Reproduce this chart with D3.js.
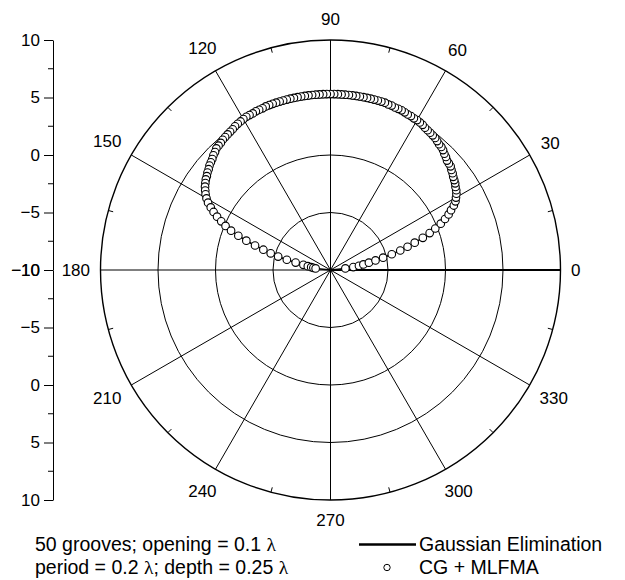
<!DOCTYPE html>
<html>
<head>
<meta charset="utf-8">
<script src="https://cdn.jsdelivr.net/npm/d3@7"></script>
<style>
  html, body { margin: 0; padding: 0; background: #fff; }
  svg { display: block; font-family: "Liberation Sans", Arial, sans-serif; }
</style>
</head>
<body>
<svg id="chart" width="625" height="580"></svg>
<script>
// Scattered field pattern (dB) over the upper half-plane, sampled every 1.2 degrees (0..180).
// Values below the -10 dB floor fall outside the plotted range.
const angleStepDeg = 1.2;
const cgMlfmaDb = [
  -12, -12, -12, -12, -11, -8.7, -8.0, -7.5, -7.1, -6.6,
  -6.0, -5.3, -4.5, -3.7, -3.0, -2.3, -1.5, -0.8, -0.2, 0.4,
  0.9, 1.35, 1.7, 2.1, 2.4, 2.6, 2.8, 2.95, 3.05, 3.2,
  3.3, 3.4, 3.55, 3.65, 3.8, 3.85, 3.9, 4.05, 4.15, 4.3,
  4.4, 4.45, 4.55, 4.65, 4.7, 4.75, 4.8, 4.85, 4.95, 5.0,
  5.05, 5.05, 5.1, 5.1, 5.15, 5.2, 5.2, 5.2, 5.25, 5.25,
  5.3, 5.3, 5.3, 5.3, 5.3, 5.3, 5.3, 5.3, 5.3, 5.3,
  5.3, 5.3, 5.3, 5.3, 5.3, 5.3, 5.3, 5.3, 5.3, 5.3,
  5.3, 5.3, 5.3, 5.3, 5.3, 5.3, 5.3, 5.3, 5.3, 5.3,
  5.3, 5.3, 5.3, 5.3, 5.25, 5.25, 5.25, 5.2, 5.2, 5.2,
  5.15, 5.1, 5.05, 5.0, 4.9, 4.85, 4.8, 4.75, 4.7, 4.6,
  4.55, 4.5, 4.35, 4.25, 4.1, 4.0, 3.9, 3.75, 3.65, 3.5,
  3.4, 3.25, 3.1, 2.9, 2.7, 2.45, 2.15, 1.75, 1.35, 0.9,
  0.4, -0.1, -0.7, -1.45, -2.25, -3.1, -3.9, -4.6, -5.3, -6.1,
  -6.9, -7.6, -8.0, -8.3, -8.5, -8.7, -11, -12, -12, -12,
  -12
];
// The direct solver agrees with the iterative one to within the plot resolution
const gaussianDb = cgMlfmaDb.slice();

const radialTicks = [-10, -5, 0, 5, 10];
const radialMinorTicks = [-7.5, -2.5, 2.5, 7.5];
const spokeAngles = [0, 30, 60, 90, 120, 150, 180, 210, 240, 270, 300, 330];
const rimTickAngles = [15, 45, 75, 105, 135, 165, 195, 225, 255, 285, 315, 345];
const noteLines = [
  ["50 grooves; opening = 0.1 ", "λ"],
  ["period = 0.2 ", "λ", "; depth = 0.25 ", "λ"]
];
const seriesNames = ["Gaussian Elimination", "CG + MLFMA"];

const svg = d3.select("#chart");
const cx = 330.5, cy = 270, R = 230;
const rMin = -10, rMax = 10;
const rScale = d3.scaleLinear().domain([rMin, rMax]).range([0, R]).clamp(true);
const rad = deg => deg * Math.PI / 180;
const px = (deg, r) => cx + r * Math.cos(rad(deg));
const py = (deg, r) => cy - r * Math.sin(rad(deg));

const grid = svg.append("g").attr("fill", "none").attr("stroke", "#000");

// concentric rings
grid.selectAll("circle.ring")
  .data(radialTicks.filter(v => v > rMin))
  .join("circle")
  .attr("cx", cx).attr("cy", cy)
  .attr("r", d => rScale(d))
  .attr("stroke-width", d => d === rMax ? 1.4 : 1);

// spokes
grid.selectAll("line.spoke")
  .data(spokeAngles)
  .join("line")
  .attr("x1", cx).attr("y1", cy)
  .attr("x2", d => px(d, R)).attr("y2", d => py(d, R))
  .attr("stroke-width", d => d === 0 ? 1.8 : 1);

// minor ticks on the rim, pointing inward
grid.selectAll("line.rimtick")
  .data(rimTickAngles)
  .join("line")
  .attr("x1", d => px(d, R)).attr("y1", d => py(d, R))
  .attr("x2", d => px(d, R - 5)).attr("y2", d => py(d, R - 5))
  .attr("stroke-width", 1);

// angle labels: each label box sits a fixed gap outside the rim
const angleLabels = svg.append("g")
  .selectAll("text")
  .data(spokeAngles)
  .join("text")
  .attr("text-anchor", "middle")
  .attr("dominant-baseline", "central")
  .attr("font-size", 17)
  .text(d => d);
angleLabels.each(function (d) {
  const w = this.getComputedTextLength();
  const c = Math.abs(Math.cos(rad(d))), s = Math.abs(Math.sin(rad(d)));
  const dist = R + 10.5 + c * w / 2 + s * 10;
  d3.select(this).attr("x", px(d, dist)).attr("y", py(d, dist));
});

// radial axis on the left, mirrored about the centre
const axisX = 53;
const yUp = d3.scaleLinear().domain([rMin, rMax]).range([cy, cy - R]);
const yDown = d3.scaleLinear().domain([rMin, rMax]).range([cy, cy + R]);
[yUp, yDown].forEach(sc => {
  const g = svg.append("g").attr("transform", `translate(${axisX},0)`);
  g.call(d3.axisLeft(sc).tickValues(radialTicks).tickSize(9).tickSizeOuter(0).tickPadding(4).tickFormat(d3.format("d")));
  g.selectAll(".tick text").attr("font-size", 17).attr("font-family", null).attr("fill", "#000");
  g.selectAll(".tick line").attr("stroke", "#000");
  g.select(".domain").attr("stroke", "#000").attr("stroke-width", 1);
  g.selectAll("line.minor")
    .data(radialMinorTicks)
    .join("line")
    .attr("class", "minor")
    .attr("x1", 0).attr("x2", -5)
    .attr("y1", d => sc(d)).attr("y2", d => sc(d))
    .attr("stroke", "#000");
});

// Gaussian elimination curve
const toDeg = i => i * angleStepDeg;
const radialLine = d3.lineRadial()
  .angle((d, i) => rad(90 - toDeg(i)))
  .radius(d => rScale(d));
svg.append("path")
  .attr("transform", `translate(${cx},${cy})`)
  .attr("d", radialLine(gaussianDb))
  .attr("fill", "none")
  .attr("stroke", "#000")
  .attr("stroke-width", 1.6);

// CG + MLFMA samples (only those inside the plotted range)
const samples = cgMlfmaDb.map((v, i) => ({ deg: toDeg(i), v })).filter(d => d.v >= rMin);
svg.append("g")
  .selectAll("circle")
  .data(samples)
  .join("circle")
  .attr("cx", d => px(d.deg, rScale(d.v)))
  .attr("cy", d => py(d.deg, rScale(d.v)))
  .attr("r", 3.8)
  .attr("fill", "#fff")
  .attr("stroke", "#000")
  .attr("stroke-width", 1.1);

// geometry notes
const noteSize = 19.5, line1 = 551, lineGap = 23;
const notes = svg.append("g").attr("font-size", noteSize);
noteLines.forEach((parts, li) => {
  const t = notes.append("text").attr("x", 35).attr("y", line1 + li * lineGap);
  parts.forEach(p => {
    const s = t.append("tspan").text(p);
    if (p === "λ") s.attr("font-family", "'Liberation Serif', 'Times New Roman', serif");
  });
});

// legend
const leg = svg.append("g").attr("font-size", noteSize);
leg.append("line")
  .attr("x1", 359).attr("x2", 416).attr("y1", line1 - 6.5).attr("y2", line1 - 6.5)
  .attr("stroke", "#000").attr("stroke-width", 2.6);
leg.append("text").attr("x", 419).attr("y", line1).text(seriesNames[0]);
leg.append("circle")
  .attr("cx", 387).attr("cy", line1 + lineGap - 6.5).attr("r", 3.2)
  .attr("fill", "#fff").attr("stroke", "#000").attr("stroke-width", 1);
leg.append("text").attr("x", 419).attr("y", line1 + lineGap).text(seriesNames[1]);
</script>
</body>
</html>
